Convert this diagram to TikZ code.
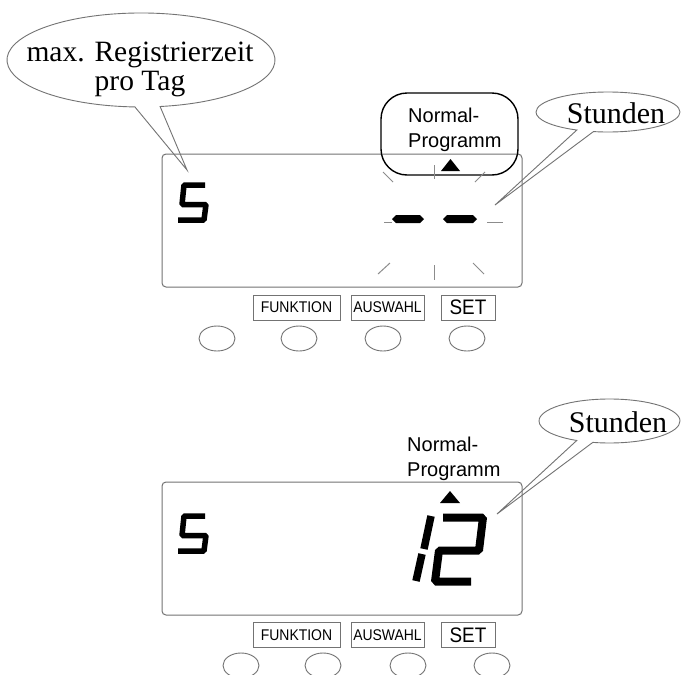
\documentclass[tikz,border=0pt]{standalone}
\usepackage{fontspec}
\setmainfont{Liberation Serif}
\setsansfont{Liberation Sans}
\newfontfamily\keyfont[FakeStretch=0.9]{Liberation Sans}
\usetikzlibrary{shapes.geometric,shapes.callouts}
\definecolor{rimgray}{gray}{0.45}
\definecolor{raygray}{gray}{0.55}
\tikzset{
  bubble/.style={ellipse callout, draw=rimgray, line width=0.9pt, fill=white, inner sep=0pt, callout pointer arc=14},
  bubbleline/.style={draw=rimgray, line width=0.9pt, fill=white},
  bubbletext/.style={font=\fontsize{29.5}{29}\selectfont, align=center, inner sep=0pt},
  lcdframe/.style={draw=rimgray, line width=1pt, rounded corners=4pt},
  keybox/.style={draw=rimgray, line width=0.9pt, inner sep=0pt, minimum height=25pt, font=\keyfont\fontsize{15.5}{15.5}\selectfont},
  knob/.style={ellipse, draw=rimgray, line width=0.9pt, inner sep=0pt, minimum width=36pt, minimum height=25pt},
  segm/.style={line width=5.5pt, line join=bevel},
  ray/.style={draw=raygray, line width=1pt},
  prog/.style={font=\sffamily\fontsize{20}{25}\selectfont, align=left, inner sep=0pt, anchor=west},
}
\begin{document}
\begin{tikzpicture}[x=1pt,y=-1pt]
\clip (0,0) rectangle (681,675);
\fill[white] (0,0) rectangle (681,675);
% callouts
\coordinate (maxtip) at (187,170);
\coordinate (hrtip1) at (495,205);
\coordinate (hrtip2) at (497,514);
\draw[bubbleline] (maxtip) -- (160.1,106.5) arc[start angle=81.8, end angle=-267.4, x radius=134, y radius=47] -- cycle;
\node[bubbletext] (maxtxt) at (140,69.7) {max. Registrierzeit\\pro Tag};
\node[bubble, minimum width=144pt, minimum height=40pt, callout absolute pointer={(hrtip1)}] (hrbub1) at (608,112) {};
\node[bubbletext, font=\fontsize{30}{30}\selectfont] (hrtxt1) at (616,112.75) {Stunden};
\node[bubble, minimum width=141pt, minimum height=44pt, callout absolute pointer={(hrtip2)}] (hrbub2) at (609.5,421) {};
\node[bubbletext, font=\fontsize{30}{30}\selectfont] (hrtxt2) at (618,421.75) {Stunden};
% upper display
\draw[lcdframe] (162,154) rectangle (522,287);
\node[draw, line width=1.4pt, rounded corners=26pt, minimum width=137pt, minimum height=82pt] (progbox) at (449.5,134) {};
\node[prog] (progtxt1) at (408,129.4) {Normal-\\Programm};
\fill (441,171) -- (450.5,159) -- (460,171) -- cycle;
\fill (392,219) -- (396,215) -- (420,215) -- (424,219) -- (420,223) -- (396,223) -- cycle;
\fill (443,219) -- (447,215) -- (473,215) -- (477,219) -- (473,223) -- (447,223) -- cycle;
\foreach \xa/\ya/\xb/\yb in {434/165/434/179, 434/265/434/280, 384/222/392/222, 487/222/503/222,
  383/172/393/182, 475/182/485/172, 378/274/390/263, 473/263/484/274}
  \draw[ray] (\xa,\ya) -- (\xb,\yb);
% lower display
\draw[lcdframe] (162,482) rectangle (522,615);
\node[prog] (progtxt2) at (407,458.4) {Normal-\\Programm};
\fill (440,503) -- (450,491) -- (460,503) -- cycle;
\draw[segm, line width=7.5pt] (431,516) -- (424,549);
\draw[segm, line width=7.5pt] (422,554) -- (416,581);
\draw[segm, line width=8pt] (443,517.5) -- (483,517.5) -- (479,550.5) -- (439,550.5) -- (435,581.5) -- (471,581.5);
% digit 5
\foreach \dy in {0,331}
  \draw[segm] (205,185+\dy) -- (184,185+\dy) -- (182,204.5+\dy) -- (206,204.5+\dy) -- (204,220+\dy) -- (178,220+\dy);
% keys
\node[keybox, minimum width=87pt] (fkt1) at (296.5,307.5) {FUNKTION};
\node[keybox, minimum width=73pt] (ausw1) at (387.5,307.5) {AUSWAHL};
\node[keybox, minimum width=54pt, font=\keyfont\fontsize{21}{21}\selectfont] (set1) at (468,307.5) {SET};
\node[keybox, minimum width=87pt] (fkt2) at (296.5,635) {FUNKTION};
\node[keybox, minimum width=73pt] (ausw2) at (387.5,635) {AUSWAHL};
\node[keybox, minimum width=54pt, font=\keyfont\fontsize{21}{21}\selectfont] (set2) at (468,635) {SET};
\foreach \x [count=\i] in {217,299,383,467}
  \node[knob] (knobA\i) at (\x,338.5) {};
\foreach \x [count=\i] in {241,323,408,492}
  \node[knob] (knobB\i) at (\x,665.5) {};
\end{tikzpicture}
\end{document}
